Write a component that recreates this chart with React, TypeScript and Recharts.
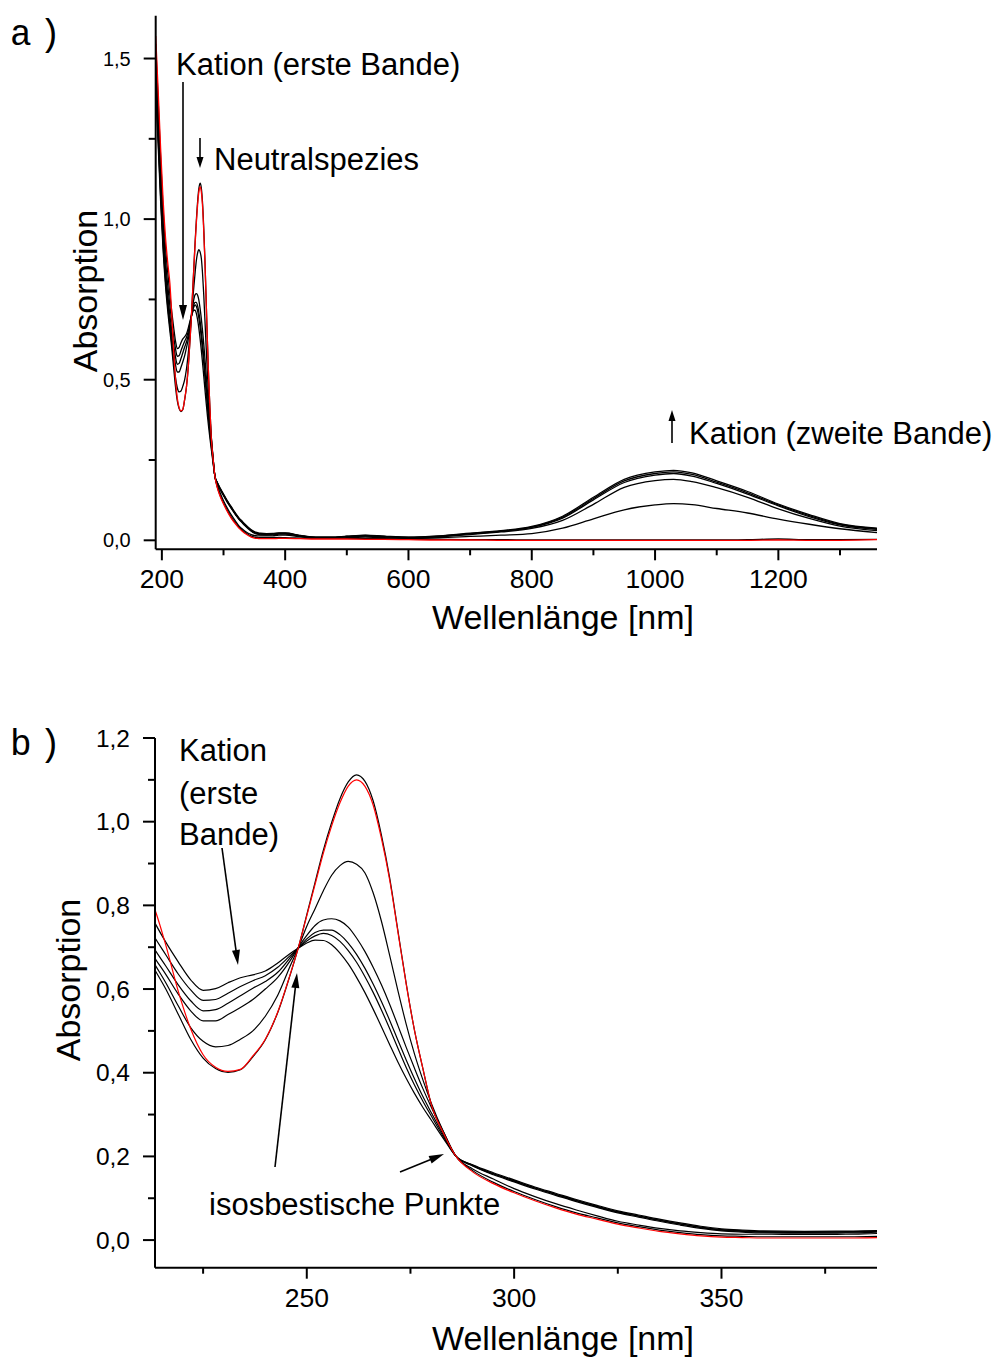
import React from 'react';
import { LineChart, Line, XAxis, YAxis } from 'recharts';

// ---------- data ----------
const wavelengthNm = [
  190, 194, 198, 202, 206, 210,
  213, 216, 219, 222, 225, 228, 231, 234, 237, 240, 243, 246,
  248, 250, 252, 254, 256, 258, 260, 262, 264, 266, 268, 270, 272, 274, 276, 278, 280,
  283, 286,
  290, 295, 300, 305, 310, 315, 320, 325, 330, 335, 340, 345, 350, 355, 360,
  370, 380, 390,
  400, 425, 450, 475, 500, 530, 560, 600, 650, 700, 750, 800, 850, 900, 950, 1000,
  1030, 1060, 1100, 1150, 1200, 1250, 1300, 1360,
];

// red: neutral species (start spectrum)
const redNeutral = [
  1.57, 1.40, 1.22, 1.06, 0.94, 0.855,
  0.80, 0.705, 0.595, 0.505, 0.443, 0.413, 0.403, 0.408, 0.44, 0.48, 0.545, 0.635,
  0.70, 0.775, 0.85, 0.925, 0.99, 1.045, 1.085, 1.10, 1.085, 1.04, 0.96, 0.86, 0.735, 0.61, 0.50, 0.41, 0.325,
  0.255, 0.20,
  0.163, 0.135, 0.113, 0.094, 0.077, 0.062, 0.050, 0.038, 0.029, 0.021, 0.015, 0.010, 0.007, 0.006, 0.005,
  0.005, 0.005, 0.006,
  0.006, 0.005, 0.004, 0.004, 0.004, 0.003, 0.003, 0.002, 0.001, 0.001, 0.0, 0.0, 0.0, 0.0, 0.0, 0.0,
  0.0, 0.0, 0.0, 0.0, 0.001, 0.0, 0.0, 0.002,
];

const trace1 = [
  1.40, 1.23, 1.055, 0.905, 0.79, 0.705,
  0.652, 0.60, 0.54, 0.48, 0.435, 0.41, 0.401, 0.407, 0.438, 0.479, 0.544, 0.634,
  0.70, 0.778, 0.855, 0.932, 0.998, 1.055, 1.095, 1.112, 1.097, 1.05, 0.968, 0.865, 0.738, 0.612, 0.50, 0.41, 0.325,
  0.255, 0.20,
  0.166, 0.138, 0.116, 0.097, 0.080, 0.065, 0.053, 0.041, 0.032, 0.024, 0.018, 0.013, 0.010, 0.009, 0.008,
  0.008, 0.008, 0.009,
  0.008, 0.007, 0.006, 0.006, 0.006, 0.005, 0.005, 0.004, 0.003, 0.002, 0.002, 0.001, 0.001, 0.001, 0.001, 0.001,
  0.001, 0.001, 0.001, 0.002, 0.004, 0.002, 0.002, 0.003,
];

const trace2 = [
  1.42, 1.25, 1.07, 0.92, 0.805, 0.72,
  0.665, 0.615, 0.56, 0.508, 0.475, 0.462, 0.465, 0.48, 0.50, 0.535, 0.585, 0.655,
  0.70, 0.75, 0.792, 0.835, 0.872, 0.895, 0.905, 0.898, 0.878, 0.83, 0.762, 0.68, 0.595, 0.515, 0.444, 0.383, 0.328,
  0.258, 0.20,
  0.170, 0.146, 0.123, 0.104, 0.087, 0.072, 0.058, 0.045, 0.036, 0.028, 0.022, 0.018, 0.015, 0.014, 0.014,
  0.0135, 0.014, 0.016,
  0.016, 0.011, 0.007, 0.007, 0.008, 0.010, 0.008, 0.006, 0.008, 0.012, 0.016, 0.021, 0.038, 0.067, 0.095, 0.110,
  0.114, 0.111, 0.099, 0.085, 0.066, 0.050, 0.036, 0.024,
];

const trace3 = [
  1.45, 1.27, 1.09, 0.935, 0.82, 0.735,
  0.68, 0.635, 0.588, 0.548, 0.524, 0.524, 0.539, 0.556, 0.575, 0.60, 0.628, 0.668,
  0.70, 0.728, 0.752, 0.765, 0.768, 0.763, 0.748, 0.722, 0.69, 0.652, 0.61, 0.563, 0.512, 0.46, 0.41, 0.362, 0.318,
  0.258, 0.20,
  0.177, 0.156, 0.139, 0.122, 0.107, 0.092, 0.078, 0.065, 0.055, 0.045, 0.036, 0.028, 0.022, 0.019, 0.017,
  0.0165, 0.017, 0.019,
  0.019, 0.013, 0.009, 0.009, 0.011, 0.013, 0.011, 0.008, 0.011, 0.018, 0.026, 0.037, 0.062, 0.112, 0.165, 0.186,
  0.19, 0.183, 0.164, 0.134, 0.098, 0.068, 0.044, 0.030,
];

const trace4 = [
  1.48, 1.30, 1.12, 0.96, 0.84, 0.755,
  0.70, 0.655, 0.61, 0.572, 0.548, 0.551, 0.566, 0.584, 0.602, 0.618, 0.64, 0.675,
  0.699, 0.72, 0.735, 0.741, 0.741, 0.73, 0.71, 0.683, 0.65, 0.612, 0.57, 0.525, 0.477, 0.43, 0.385, 0.343, 0.305,
  0.25, 0.20,
  0.178, 0.158, 0.141, 0.124, 0.109, 0.094, 0.080, 0.067, 0.057, 0.047, 0.038, 0.030, 0.024, 0.021, 0.019,
  0.0185, 0.019, 0.021,
  0.021, 0.014, 0.009, 0.009, 0.012, 0.014, 0.012, 0.009, 0.012, 0.020, 0.028, 0.040, 0.069, 0.126, 0.180, 0.203,
  0.208, 0.200, 0.177, 0.144, 0.107, 0.074, 0.048, 0.034,
];

const trace5 = [
  1.51, 1.33, 1.15, 0.99, 0.87, 0.785,
  0.729, 0.682, 0.636, 0.598, 0.573, 0.575, 0.59, 0.606, 0.62, 0.632, 0.652, 0.68,
  0.698, 0.715, 0.727, 0.733, 0.728, 0.714, 0.692, 0.664, 0.63, 0.592, 0.55, 0.505, 0.458, 0.412, 0.37, 0.332, 0.297,
  0.246, 0.20,
  0.179, 0.159, 0.142, 0.125, 0.110, 0.095, 0.081, 0.068, 0.058, 0.048, 0.039, 0.031, 0.025, 0.022, 0.020,
  0.0195, 0.020, 0.022,
  0.022, 0.014, 0.009, 0.009, 0.012, 0.015, 0.012, 0.009, 0.013, 0.021, 0.029, 0.041, 0.072, 0.130, 0.185, 0.208,
  0.213, 0.205, 0.181, 0.148, 0.110, 0.077, 0.050, 0.036,
];

const trace6 = [
  1.545, 1.37, 1.19, 1.03, 0.91, 0.825,
  0.765, 0.712, 0.665, 0.622, 0.597, 0.601, 0.615, 0.627, 0.634, 0.643, 0.662, 0.685,
  0.698, 0.71, 0.717, 0.716, 0.706, 0.686, 0.66, 0.628, 0.592, 0.552, 0.51, 0.467, 0.425, 0.386, 0.35, 0.317, 0.287,
  0.242, 0.20,
  0.180, 0.161, 0.144, 0.127, 0.112, 0.097, 0.083, 0.070, 0.060, 0.050, 0.041, 0.033, 0.027, 0.024, 0.022,
  0.021, 0.0215, 0.023,
  0.023, 0.015, 0.010, 0.010, 0.013, 0.016, 0.013, 0.010, 0.014, 0.022, 0.030, 0.043, 0.075, 0.134, 0.190, 0.213,
  0.218, 0.210, 0.185, 0.152, 0.113, 0.080, 0.052, 0.038,
];

// ticks
const panelAXMajor = [200, 400, 600, 800, 1000, 1200];
const panelAXMinor = [300, 500, 700, 900, 1100, 1300];
const panelAYMajor = [0, 0.5, 1.0, 1.5];
const panelAYMinor = [0.25, 0.75, 1.25];
const panelBXMajor = [250, 300, 350];
const panelBXMinor = [225, 275, 325, 375];
const panelBYMajor = [0, 0.2, 0.4, 0.6, 0.8, 1.0, 1.2];
const panelBYMinor = [0.1, 0.3, 0.5, 0.7, 0.9, 1.1];

const blackKeys = ['t1', 't2', 't3', 't4', 't5', 't6'];
const blackSeries = [trace1, trace2, trace3, trace4, trace5, trace6];

const rows = wavelengthNm.map((nm, i) => {
  const row: Record<string, number> = { nm, red: redNeutral[i] };
  blackSeries.forEach((s, k) => {
    row[blackKeys[k]] = s[i];
  });
  return row;
});

// ---------- helpers ----------
const FONT = "'Liberation Sans', Arial, Helvetica, sans-serif";
const MONO = "'Liberation Mono', 'Courier New', monospace";
const isIn = (arr: number[], v: number) => arr.some((m) => Math.abs(m - v) < 1e-6);
const sorted = (a: number[], b: number[]) => [...a, ...b].sort((p, q) => p - q);
const comma = (v: number) => v.toFixed(1).replace('.', ',');

const xTick = (majors: number[], fontSize: number, labelDy: number) => (props: any) => {
  const { x, y, payload } = props;
  const major = isIn(majors, payload.value);
  return (
    <g>
      <line x1={x} x2={x} y1={y} y2={y + (major ? 11 : 6)} stroke="#000" strokeWidth={2} />
      {major && (
        <text x={x} y={y + labelDy} textAnchor="middle" fontFamily={FONT} fontSize={fontSize} fill="#000">
          {String(payload.value)}
        </text>
      )}
    </g>
  );
};

const yTick = (majors: number[], fontSize: number, gap: number, baseDy: number) => (props: any) => {
  const { x, y, payload } = props;
  const major = isIn(majors, payload.value);
  return (
    <g>
      <line x1={x - (major ? 12 : 7)} x2={x} y1={y} y2={y} stroke="#000" strokeWidth={2} />
      {major && (
        <text x={x - gap} y={y + baseDy} textAnchor="end" fontFamily={FONT} fontSize={fontSize} fill="#000">
          {comma(payload.value)}
        </text>
      )}
    </g>
  );
};

const Arrow = ({ x1, y1, x2, y2, head = 14, half = 4 }: any) => {
  const dx = x2 - x1;
  const dy = y2 - y1;
  const len = Math.hypot(dx, dy);
  const ux = dx / len;
  const uy = dy / len;
  const bx = x2 - ux * head;
  const by = y2 - uy * head;
  const px = -uy;
  const py = ux;
  return (
    <g>
      <line x1={x1} y1={y1} x2={bx + ux * 2} y2={by + uy * 2} stroke="#000" strokeWidth={1.6} />
      <polygon
        points={`${x2},${y2} ${bx + px * half},${by + py * half} ${bx - px * half},${by - py * half}`}
        fill="#000"
      />
    </g>
  );
};

const renderLines = (w: number) => [
  ...blackKeys.map((k) => (
    <Line
      key={k}
      dataKey={k}
      type="monotone"
      stroke="#000"
      strokeWidth={w}
      dot={false}
      activeDot={false}
      isAnimationActive={false}
    />
  )),
  <Line
    key="red"
    dataKey="red"
    type="monotone"
    stroke="#ff0000"
    strokeWidth={w}
    dot={false}
    activeDot={false}
    isAnimationActive={false}
  />,
];

export default function App() {
  const axisLine = { stroke: '#000', strokeWidth: 2 };
  return (
    <div style={{ position: 'absolute', left: 0, top: 0, width: 994, height: 1360, background: '#fff' }}>
      {/* Panel a */}
      <div style={{ position: 'absolute', left: 0, top: 0 }}>
        <LineChart width={994} height={620} data={rows} margin={{ top: 15.8, right: 117, bottom: 10.7, left: 95.7 }}>
          <XAxis
            dataKey="nm"
            type="number"
            domain={[190, 1360]}
            allowDataOverflow
            ticks={sorted(panelAXMajor, panelAXMinor)}
            interval={0}
            tickSize={0}
            tickMargin={0}
            tickLine={false}
            axisLine={axisLine}
            height={60}
            tick={xTick(panelAXMajor, 26.5, 39)}
          />
          <YAxis
            type="number"
            domain={[-0.028, 1.633]}
            allowDataOverflow
            ticks={sorted(panelAYMajor, panelAYMinor)}
            interval={0}
            tickSize={0}
            tickMargin={0}
            tickLine={false}
            axisLine={axisLine}
            width={60}
            tick={yTick(panelAYMajor, 20, 25, 7)}
          />
          {renderLines(1.3)}
        </LineChart>
      </div>

      {/* Panel b */}
      <div style={{ position: 'absolute', left: 0, top: 700 }}>
        <LineChart width={994} height={660} data={rows} margin={{ top: 38, right: 117, bottom: 32.3, left: 95 }}>
          <XAxis
            dataKey="nm"
            type="number"
            domain={[213.4, 387.5]}
            allowDataOverflow
            ticks={sorted(panelBXMajor, panelBXMinor)}
            interval={0}
            tickSize={0}
            tickMargin={0}
            tickLine={false}
            axisLine={axisLine}
            height={60}
            tick={xTick(panelBXMajor, 26.5, 39)}
          />
          <YAxis
            type="number"
            domain={[-0.066, 1.2]}
            allowDataOverflow
            ticks={sorted(panelBYMajor, panelBYMinor)}
            interval={0}
            tickSize={0}
            tickMargin={0}
            tickLine={false}
            axisLine={axisLine}
            width={60}
            tick={yTick(panelBYMajor, 24.5, 25, 8.5)}
          />
          {renderLines(1.2)}
        </LineChart>
      </div>

      {/* Annotations */}
      <svg
        width={994}
        height={1360}
        style={{ position: 'absolute', left: 0, top: 0, pointerEvents: 'none' }}
      >
        <g fontFamily={FONT} fill="#000">
          {/* panel a */}
          <text x={10} y={45} fontFamily={MONO} fontSize={36} letterSpacing={-7}>a )</text>
          <text x={176} y={75} fontSize={31}>Kation (erste Bande)</text>
          <Arrow x1={183} y1={82} x2={183} y2={320} head={15} half={4} />
          <Arrow x1={200} y1={138} x2={200} y2={168} head={11} half={3.5} />
          <text x={214} y={170} fontSize={31}>Neutralspezies</text>
          <Arrow x1={672} y1={443} x2={672} y2={410} head={11} half={3.5} />
          <text x={689} y={444} fontSize={31}>Kation (zweite Bande)</text>
          <text x={563} y={629} fontSize={34} textAnchor="middle">Wellenlänge [nm]</text>
          <text x={97} y={291} fontSize={34} textAnchor="middle" transform="rotate(-90 97 291)">Absorption</text>

          {/* panel b */}
          <text x={10} y={755} fontFamily={MONO} fontSize={36} letterSpacing={-7}>b )</text>
          <text x={179} y={761} fontSize={31}>Kation</text>
          <text x={179} y={804} fontSize={31}>(erste</text>
          <text x={179} y={845} fontSize={31}>Bande)</text>
          <Arrow x1={222} y1={848} x2={238} y2={965} head={15} half={4} />
          <Arrow x1={275} y1={1167} x2={297} y2={973} head={15} half={4} />
          <Arrow x1={400} y1={1172} x2={444} y2={1154} head={15} half={4} />
          <text x={209} y={1215} fontSize={31}>isosbestische Punkte</text>
          <text x={563} y={1350} fontSize={34} textAnchor="middle">Wellenlänge [nm]</text>
          <text x={80} y={980} fontSize={34} textAnchor="middle" transform="rotate(-90 80 980)">Absorption</text>
        </g>
      </svg>
    </div>
  );
}
